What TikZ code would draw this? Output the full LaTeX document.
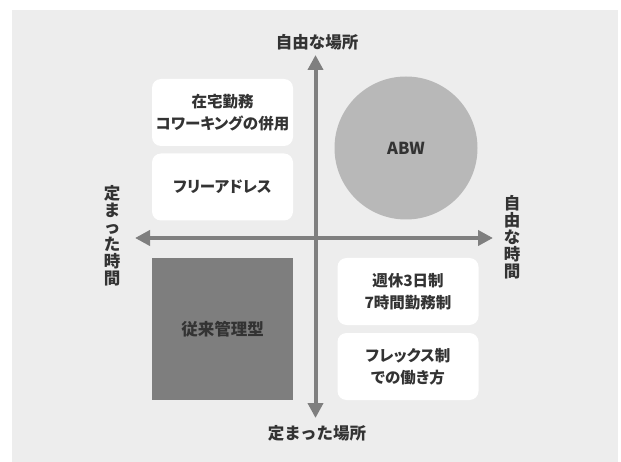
\documentclass[tikz,border=0pt]{standalone}
\usepackage{fontspec}
\setmainfont{Noto Sans CJK JP}[RawFeature=+palt]
\newfontfamily\jpfull{Noto Sans CJK JP}
\usetikzlibrary{arrows.meta}
\definecolor{bggray}{HTML}{EDEDED}
\definecolor{axisgray}{HTML}{7F7F7F}
\definecolor{circgray}{HTML}{B8B8B8}
\definecolor{darkbox}{HTML}{7E7E7E}
\definecolor{txt}{HTML}{333333}
\tikzset{
  whitebox/.style={fill=white, rounded corners=9pt, minimum width=141pt, minimum height=67pt, align=center, inner sep=0pt, font=\fontsize{15.5}{22}\selectfont\bfseries, text=txt},
  axisarrow/.style={draw=axisgray, line width=4pt, {Triangle[length=15pt,width=15pt]}-{Triangle[length=15pt,width=15pt]}},
  axislabel/.style={font=\jpfull\fontsize{16.5}{17}\selectfont\bfseries, text=txt, inner sep=0pt, align=center},
}
\begin{document}
\begin{tikzpicture}[x=1pt,y=-1pt]
\useasboundingbox (0,0) rectangle (621,462);
\fill[bggray] (12,10) rectangle (618,462);
% boxes
\node[whitebox] (remote) at (222.5,112.5) {在宅勤務\\コワーキングの併用};
\node[whitebox] (free) at (222.5,187) {フリーアドレス};
\node[whitebox] (week) at (408,291.5) {週休3日制\\7時間勤務制};
\node[whitebox] (flex) at (408,366.5) {フレックス制\\での働き方};
\node[fill=darkbox, minimum width=141pt, minimum height=142pt, inner sep=0pt, font=\fontsize{16.5}{18}\selectfont\bfseries, text=txt] (trad) at (222.5,329) {従来管理型};
\node[circle, fill=circgray, minimum size=143pt, inner sep=0pt, font=\fontsize{16.5}{18}\selectfont\bfseries, text=txt] (abw) at (406,148) {ABW};
% axes
\coordinate (top) at (315.5,55);
\coordinate (bottom) at (315.5,418);
\coordinate (left) at (135,238);
\coordinate (right) at (493,238);
\draw[axisarrow] (bottom) -- (top);
\draw[axisarrow] (left) -- (right);
% labels
\node[axislabel] (ltop) at (317,42) {自由な場所};
\node[axislabel] (lbottom) at (317,433) {定まった場所};
\node[axislabel] (lleft) at (112,236) {定\\ま\\っ\\た\\時\\間};
\node[axislabel] (lright) at (512,237) {自\\由\\な\\時\\間};
\end{tikzpicture}
\end{document}
